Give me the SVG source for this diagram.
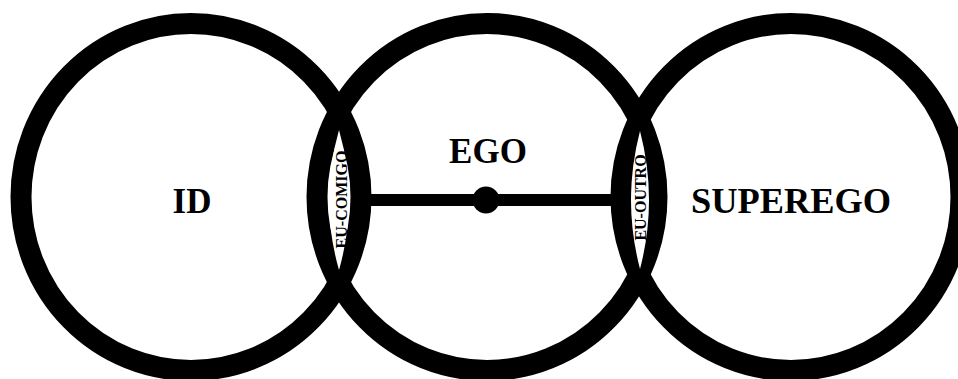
<svg xmlns="http://www.w3.org/2000/svg" width="958" height="379" viewBox="0 0 958 379">
  <style>
    .ring { fill: none; stroke: #000; stroke-width: 21; }
    .lens { fill: #fff; stroke: none; }
    .big { font-family: "Liberation Serif", "Times New Roman", serif; font-weight: bold; font-size: 35px; fill: #000; text-anchor: middle; }
    .small { font-family: "Liberation Serif", "Times New Roman", serif; font-weight: bold; font-size: 16px; fill: #000; text-anchor: middle; }
  </style>
  <rect width="958" height="379" fill="#fff"/>
  <g id="connectors">
    <line x1="356" y1="200" x2="622" y2="200" stroke="#000" stroke-width="12"/>
    <circle cx="486" cy="200" r="13.5" fill="#000"/>
  </g>
  <g id="id-node">
    <ellipse class="ring" cx="191" cy="197" rx="170" ry="173.5"/>
    <text class="big" x="192" y="213">ID</text>
  </g>
  <g id="ego-node">
    <ellipse class="ring" cx="487" cy="197" rx="170" ry="173.5"/>
    <text class="big" x="488" y="163">EGO</text>
  </g>
  <g id="superego-node">
    <ellipse class="ring" cx="791" cy="197" rx="170" ry="173.5"/>
    <text class="big" x="791" y="213" textLength="200" lengthAdjust="spacingAndGlyphs">SUPEREGO</text>
  </g>
  <g id="eu-comigo">
    <path class="lens" d="M339,130 Q319,200 339,270 Q359,200 339,130 Z"/>
    <text class="small" transform="translate(347,199.5) rotate(-90)" x="0" y="0">EU-COMIGO</text>
  </g>
  <g id="eu-outro">
    <path class="lens" d="M640,131 Q622,200 640,269 Q658,200 640,131 Z"/>
    <text class="small" transform="translate(646,197.5) rotate(-90)" x="0" y="0">EU-OUTRO</text>
  </g>
</svg>
